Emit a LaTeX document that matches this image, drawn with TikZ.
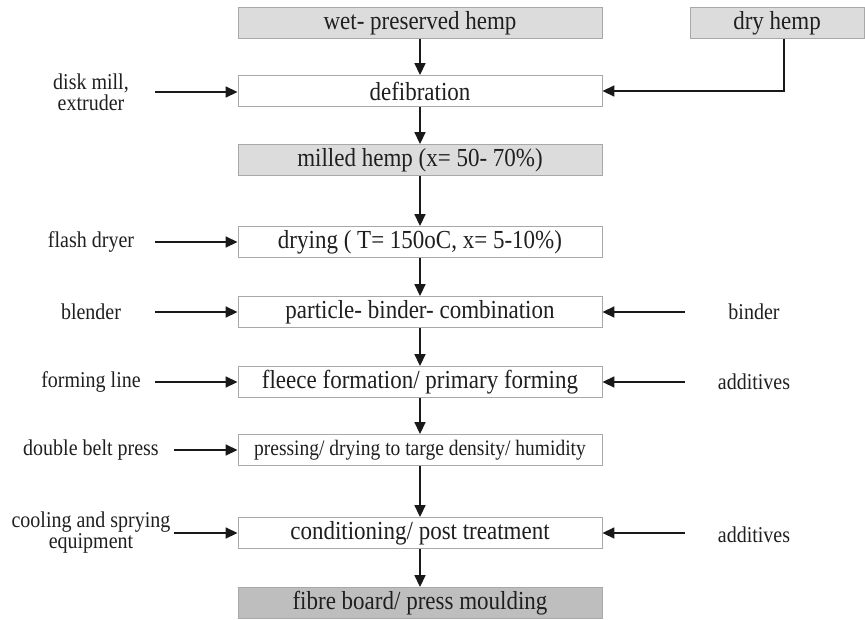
\documentclass[tikz,border=0pt]{standalone}
\usepackage{fontspec}
\usepackage{graphicx}
\setmainfont{Liberation Serif}
\usetikzlibrary{arrows.meta}
\definecolor{lightfill}{HTML}{DCDCDC}
\definecolor{darkfill}{HTML}{BEBEBE}
\definecolor{boxline}{HTML}{A8A8A8}
\newcommand{\tallt}[1]{\scalebox{1}[1.13]{#1}}
\tikzset{
  stepbox/.style={draw=boxline, line width=0.9pt, minimum width=364pt, minimum height=31pt, inner sep=0pt, font=\fontsize{23}{25}\selectfont, text=black!88},
  whitebox/.style={stepbox, fill=white},
  greybox/.style={stepbox, fill=lightfill},
  darkbox/.style={stepbox, fill=darkfill},
  sidelabel/.style={align=center, font=\fontsize{20}{21}\selectfont, text=black!88, inner sep=0pt},
  flow/.style={line width=1.7pt, black!90, -{Triangle[length=12pt,width=11pt]}}
}
\begin{document}
\begin{tikzpicture}[x=1pt,y=-1pt]
\useasboundingbox (0,0) rectangle (865,619);
% main column
\node[greybox] (wet) at (420,23) {\tallt{wet- preserved hemp}};
\node[greybox, minimum width=174pt] (dry) at (777,23) {\tallt{dry hemp}};
\node[whitebox] (defib) at (420,91) {\tallt{defibration}};
\node[greybox] (milled) at (420,160) {\tallt{milled hemp (x= 50- 70\%)}};
\node[whitebox] (drying) at (420,242) {\tallt{drying ( T= 150oC, x= 5-10\%)}};
\node[whitebox] (pbc) at (420,312) {\tallt{particle- binder- combination}};
\node[whitebox] (fleece) at (420,382) {\tallt{fleece formation/ primary forming}};
\node[whitebox, font=\fontsize{19.5}{21}\selectfont] (press) at (420,450) {\tallt{pressing/ drying to targe density/ humidity}};
\node[whitebox] (cond) at (420,533) {\tallt{conditioning/ post treatment}};
\node[darkbox] (board) at (420,603) {\tallt{fibre board/ press moulding}};
% vertical flow
\draw[flow] (wet) -- (defib);
\draw[flow] (defib) -- (milled);
\draw[flow] (milled) -- (drying);
\draw[flow] (drying) -- (pbc);
\draw[flow] (pbc) -- (fleece);
\draw[flow] (fleece) -- (press);
\draw[flow] (press) -- (cond);
\draw[flow] (cond) -- (board);
% dry hemp feed
\draw[flow] ([xshift=7pt]dry.south) |- (defib.east);
% left labels
\node[sidelabel] (l1) at (91,92) {\tallt{disk mill,}\\\tallt{extruder}};
\node[sidelabel] (l2) at (91,242) {\tallt{flash dryer}};
\node[sidelabel] (l3) at (91,312) {\tallt{blender}};
\node[sidelabel] (l4) at (91,382) {\tallt{forming line}};
\node[sidelabel] (l5) at (91,450) {\tallt{double belt press}};
\node[sidelabel] (l6) at (91,533) {\tallt{cooling and sprying}\\\tallt{equipment}};
\coordinate (s1) at (155,92);
\coordinate (s2) at (155,242);
\coordinate (s3) at (155,312);
\coordinate (s4) at (155,382);
\coordinate (s5) at (174,450);
\coordinate (s6) at (174,533);
\draw[flow] (s1) -- (s1 -| defib.west);
\draw[flow] (s2) -- (s2 -| drying.west);
\draw[flow] (s3) -- (s3 -| pbc.west);
\draw[flow] (s4) -- (s4 -| fleece.west);
\draw[flow] (s5) -- (s5 -| press.west);
\draw[flow] (s6) -- (s6 -| cond.west);
% right labels
\node[sidelabel] (r1) at (754,312) {\tallt{binder}};
\node[sidelabel] (r2) at (754,382) {\tallt{additives}};
\node[sidelabel] (r3) at (754,535) {\tallt{additives}};
\coordinate (t1) at (685,312);
\coordinate (t2) at (685,382);
\coordinate (t3) at (685,533);
\draw[flow] (t1) -- (t1 -| pbc.east);
\draw[flow] (t2) -- (t2 -| fleece.east);
\draw[flow] (t3) -- (t3 -| cond.east);
\end{tikzpicture}
\end{document}
